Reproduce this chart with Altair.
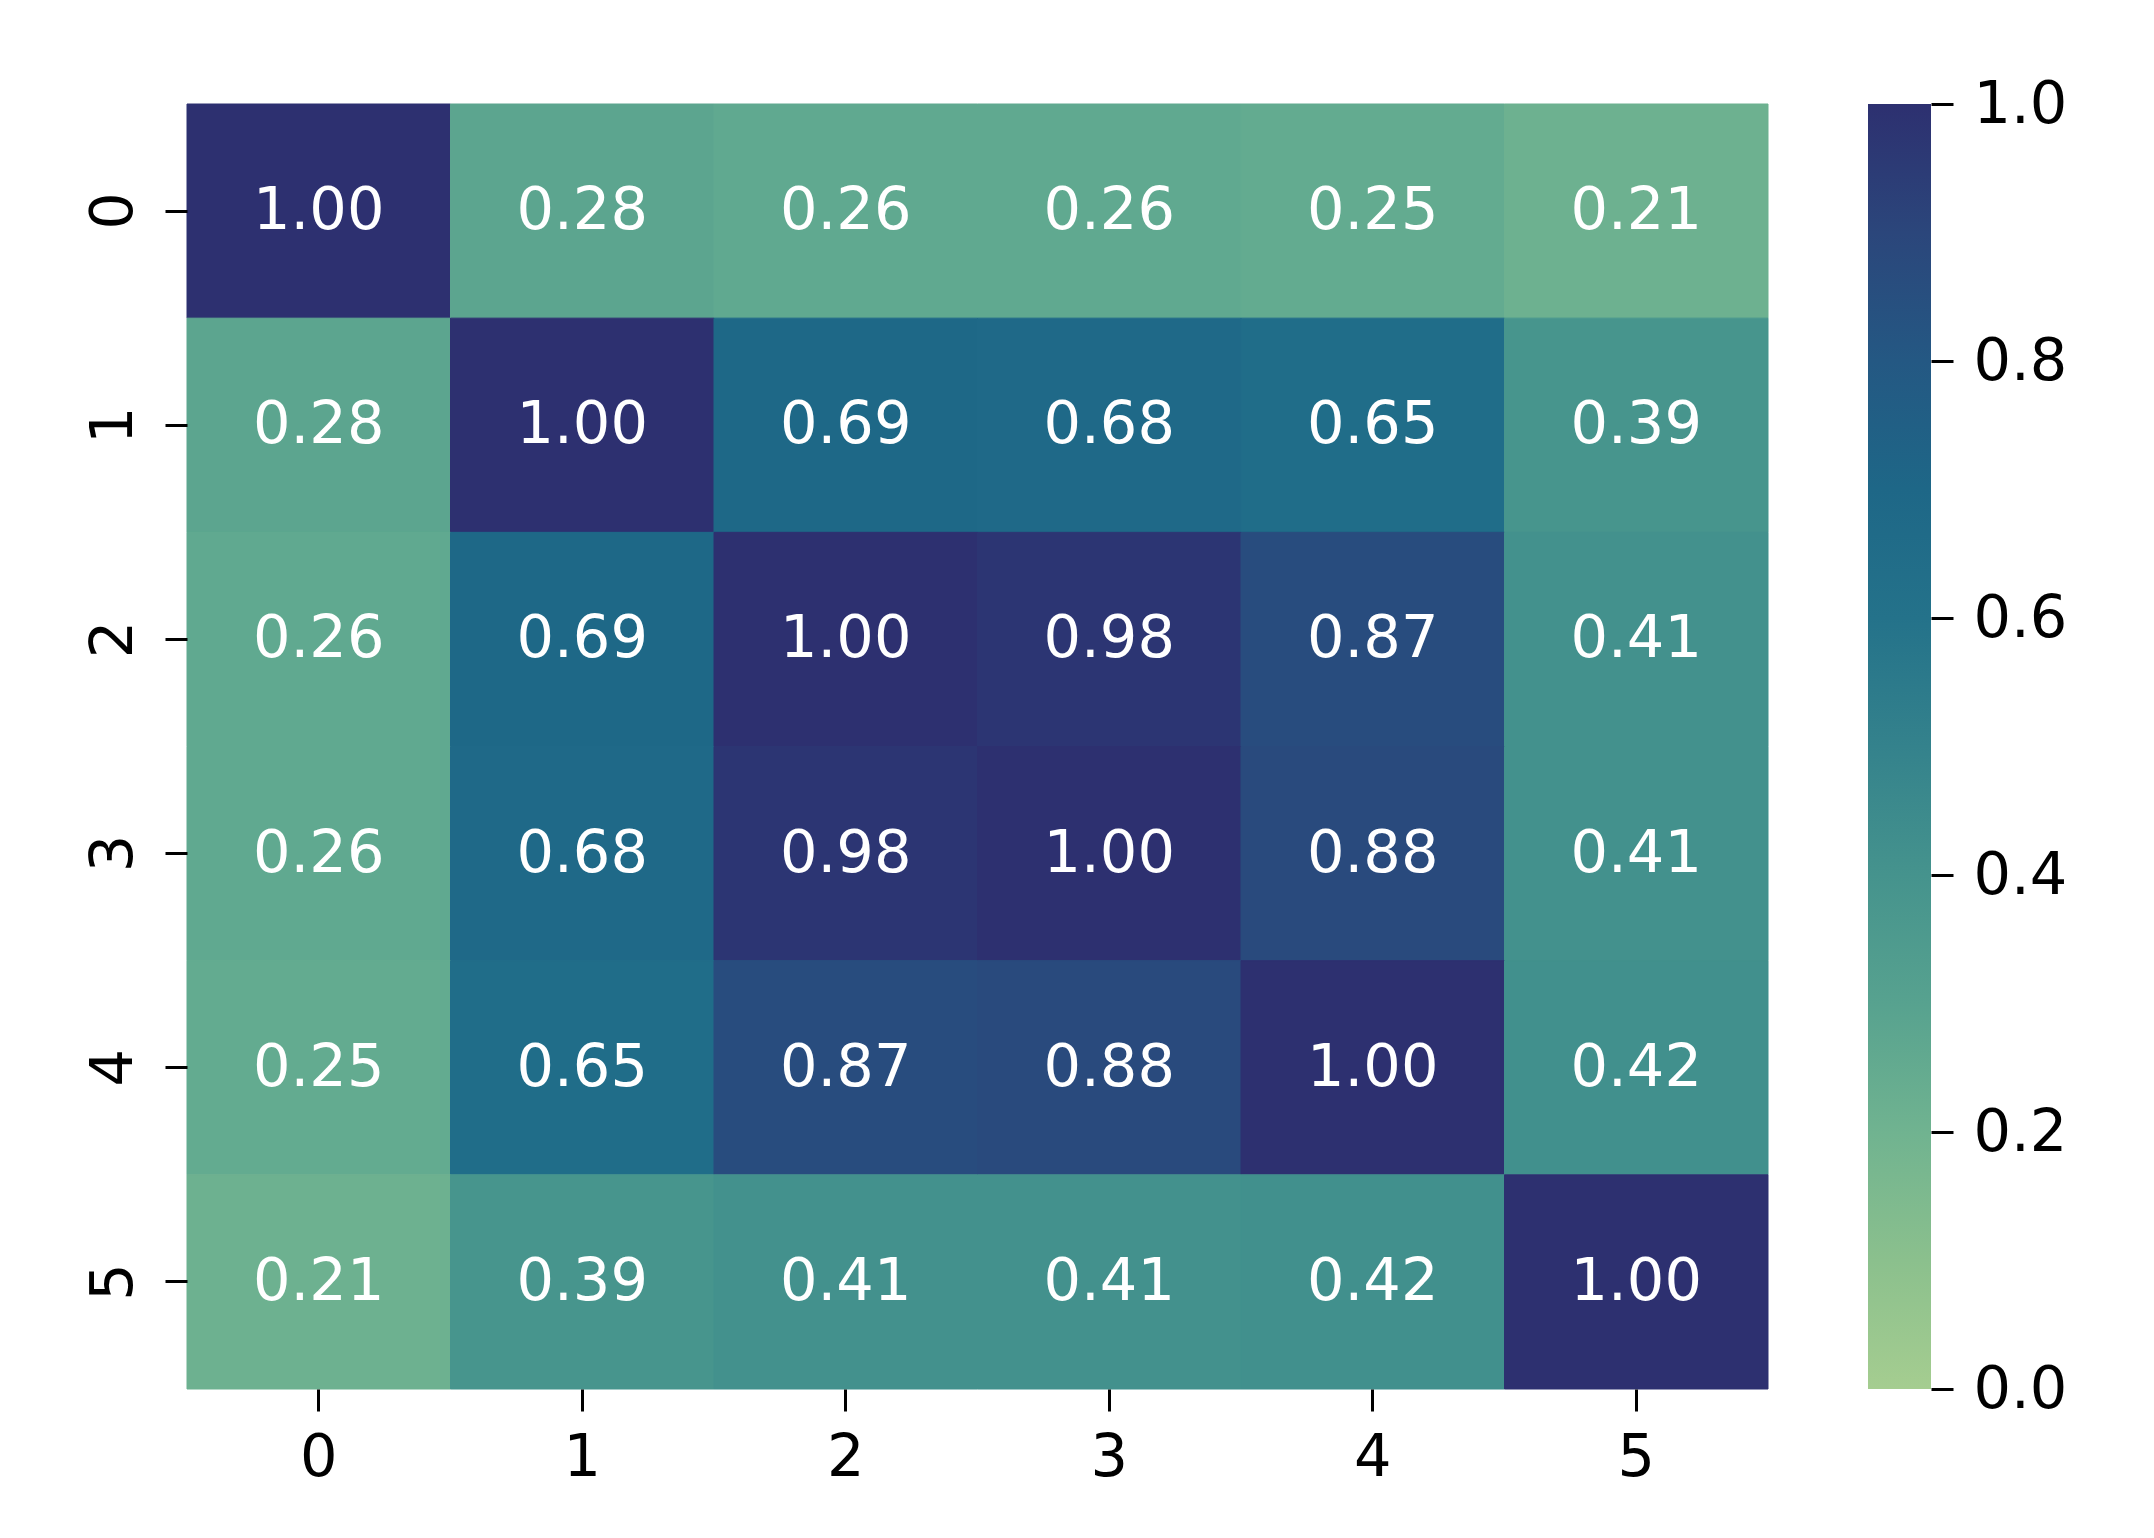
import altair as alt
import pandas as pd

labels = ["0", "1", "2", "3", "4", "5"]
matrix = [
    [1.00, 0.28, 0.26, 0.26, 0.25, 0.21],
    [0.28, 1.00, 0.69, 0.68, 0.65, 0.39],
    [0.26, 0.69, 1.00, 0.98, 0.87, 0.41],
    [0.26, 0.68, 0.98, 1.00, 0.88, 0.41],
    [0.25, 0.65, 0.87, 0.88, 1.00, 0.42],
    [0.21, 0.39, 0.41, 0.41, 0.42, 1.00],
]
cbar_ticks = [0.0, 0.2, 0.4, 0.6, 0.8, 1.0]

stop_pos = [0.0, 0.1, 0.2, 0.3, 0.4, 0.5, 0.6, 0.7, 0.8, 0.9, 1.0]
stop_col = ["#a5cd90", "#8bc08d", "#70b390", "#57a28f", "#45938d", "#34828c",
            "#24728a", "#1e6787", "#245883", "#2b467b", "#2d3070"]

rows = []
for i, r in enumerate(matrix):
    for j, v in enumerate(r):
        rows.append({"row": labels[i], "col": labels[j], "value": v})
df = pd.DataFrame(rows)

FONT = "DejaVu Sans"
FS = 59
W, H = 1581, 1285

xax = alt.Axis(labelAngle=0, tickSize=22, tickWidth=3, tickColor="black", domain=False,
               labelPadding=17, labelFontSize=FS, labelFont=FONT, labelColor="black", title=None)
yax = alt.Axis(labelAngle=270, labelAlign="center", labelBaseline="alphabetic", tickSize=22,
               tickWidth=3, tickColor="black", domain=False, labelPadding=34,
               labelFontSize=FS, labelFont=FONT, labelColor="black", title=None)

band = alt.Scale(paddingInner=0, paddingOuter=0)
cscale = alt.Scale(domain=stop_pos, range=stop_col)

rect = alt.Chart(df).mark_rect(strokeWidth=1).encode(
    x=alt.X("col:O", scale=band, axis=xax, sort=labels),
    y=alt.Y("row:O", scale=band, axis=yax, sort=labels),
    color=alt.Color("value:Q", scale=cscale, legend=None),
    stroke=alt.Stroke("value:Q", scale=cscale, legend=None),
)
text = alt.Chart(df).mark_text(color="white", fontSize=FS, font=FONT, baseline="middle").encode(
    x=alt.X("col:O", scale=band, axis=xax, sort=labels),
    y=alt.Y("row:O", scale=band, axis=yax, sort=labels),
    text=alt.Text("value:Q", format=".2f"),
)
heat = alt.layer(rect, text)

grad = alt.LinearGradient(
    gradient="linear",
    stops=[alt.GradientStop(color=c, offset=o) for o, c in zip(stop_pos, stop_col)],
    x1=0, x2=0, y1=1, y2=0,
)
cdf = pd.DataFrame({"lo": [0.0], "hi": [1.0]})
cbar = alt.Chart(cdf).mark_rect(color=grad, strokeWidth=0).encode(
    x=alt.value(1681), x2=alt.value(1744),
    y=alt.Y("lo:Q", scale=alt.Scale(domain=[0, 1], nice=False, zero=False),
            axis=alt.Axis(orient="right", offset=163, values=cbar_ticks, format=".1f",
                          tickSize=22, tickWidth=3, tickColor="black", domain=False, grid=False,
                          labelPadding=20, labelFontSize=FS, labelFont=FONT, labelColor="black",
                          labelFlush=False, labelOverlap=False, title=None)),
    y2="hi:Q",
)

chart = alt.layer(heat, cbar).resolve_scale(y="independent").properties(
    width=W, height=H,
    autosize=alt.AutoSizeParams(type="none"),
    padding={"left": 179, "top": 96, "right": 370, "bottom": 141},
).configure_view(stroke=None).configure_axis(grid=False)

chart.save("out.html", embed_options={"renderer": "svg", "actions": False})
